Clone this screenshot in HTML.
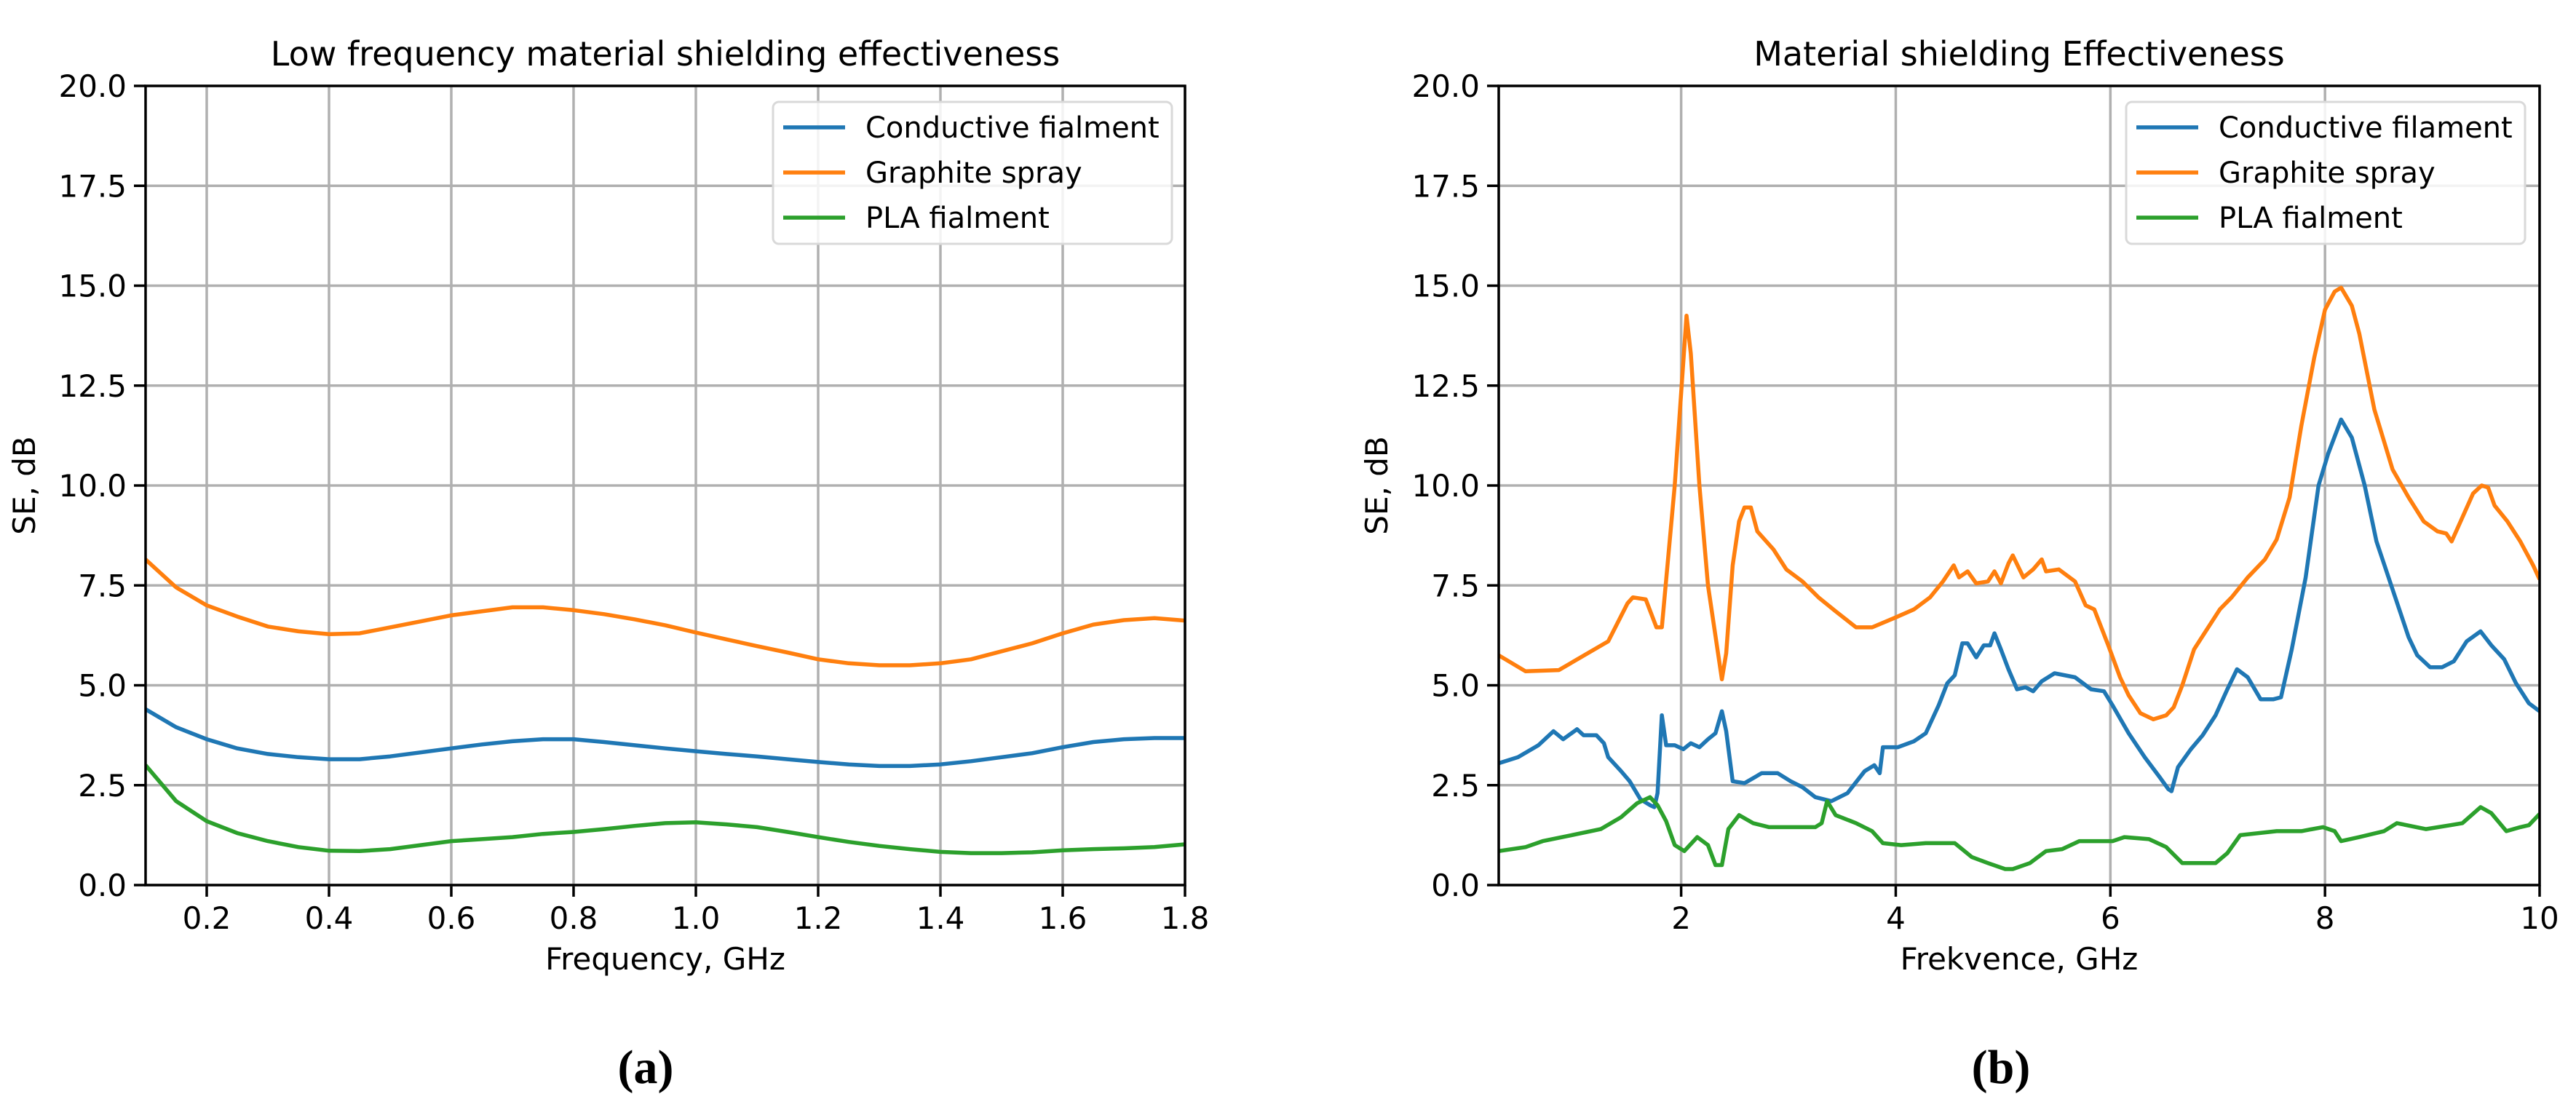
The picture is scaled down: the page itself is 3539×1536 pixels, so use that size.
<!DOCTYPE html>
<html><head><meta charset="utf-8"><style>
html,body{margin:0;padding:0;background:#fff;}
svg text{font-family:"DejaVu Sans","Liberation Sans",sans-serif;fill:#000;}
</style></head><body>
<svg id="fig" width="3539" height="1531" xmlns="http://www.w3.org/2000/svg">
<rect width="3539" height="1531" fill="#fff"/>
<g id="pa"></g>
<g id="pb"></g>
<text x="887" y="1488" text-anchor="middle" style="font-family:'Liberation Serif',serif;font-weight:bold;font-size:66px">(a)</text>
<text x="2749" y="1488" text-anchor="middle" style="font-family:'Liberation Serif',serif;font-weight:bold;font-size:66px">(b)</text>
</svg>
<script>
const yTicks=[0,2.5,5,7.5,10,12.5,15,17.5,20];
const yTickLabels=["0.0","2.5","5.0","7.5","10.0","12.5","15.0","17.5","20.0"];
const aXTicks=[0.2,0.4,0.6,0.8,1.0,1.2,1.4,1.6,1.8];
const aXTickLabels=["0.2","0.4","0.6","0.8","1.0","1.2","1.4","1.6","1.8"];
const aX=[0.1,0.15,0.2,0.25,0.3,0.35,0.4,0.45,0.5,0.55,0.6,0.65,0.7,0.75,0.8,0.85,0.9,0.95,1.0,1.05,1.1,1.15,1.2,1.25,1.3,1.35,1.4,1.45,1.5,1.55,1.6,1.65,1.7,1.75,1.8];
const aOrange=[8.15,7.45,7.0,6.72,6.47,6.35,6.28,6.3,6.45,6.6,6.75,6.85,6.95,6.95,6.88,6.78,6.65,6.5,6.32,6.15,5.98,5.82,5.65,5.55,5.5,5.5,5.55,5.65,5.85,6.05,6.3,6.52,6.63,6.68,6.62];
const aBlue=[4.4,3.95,3.65,3.42,3.28,3.2,3.15,3.15,3.22,3.32,3.42,3.52,3.6,3.65,3.65,3.58,3.5,3.42,3.35,3.28,3.22,3.15,3.08,3.02,2.98,2.98,3.02,3.1,3.2,3.3,3.45,3.58,3.65,3.68,3.68];
const aGreen=[3.0,2.1,1.6,1.3,1.1,0.95,0.86,0.85,0.9,1.0,1.1,1.15,1.2,1.28,1.33,1.4,1.48,1.55,1.57,1.52,1.45,1.33,1.2,1.08,0.98,0.9,0.83,0.8,0.8,0.82,0.87,0.9,0.92,0.95,1.02];
const bXTicks=[2,4,6,8,10];
const bXTickLabels=["2","4","6","8","10"];
const bOrangeX=[0.3,0.55,0.86,1.32,1.5,1.55,1.67,1.77,1.82,1.94,2.05,2.09,2.17,2.25,2.38,2.42,2.48,2.54,2.59,2.65,2.71,2.86,2.98,3.13,3.28,3.44,3.63,3.78,4.0,4.17,4.32,4.44,4.54,4.59,4.67,4.75,4.86,4.92,4.98,5.05,5.09,5.19,5.28,5.36,5.4,5.52,5.67,5.77,5.85,5.98,6.09,6.17,6.28,6.4,6.52,6.59,6.67,6.78,6.9,7.02,7.13,7.28,7.44,7.55,7.67,7.78,7.9,8.0,8.09,8.15,8.25,8.32,8.46,8.63,8.78,8.92,9.05,9.13,9.18,9.28,9.38,9.46,9.52,9.58,9.7,9.82,9.94,10.0];
const bOrange=[5.75,5.35,5.38,6.1,7.05,7.2,7.15,6.45,6.45,10.0,14.25,13.3,10.0,7.5,5.15,5.8,8.0,9.1,9.45,9.45,8.85,8.4,7.9,7.6,7.2,6.85,6.45,6.45,6.7,6.9,7.2,7.6,8.0,7.7,7.85,7.55,7.6,7.85,7.55,8.05,8.25,7.7,7.9,8.15,7.85,7.9,7.6,7.0,6.9,6.0,5.2,4.75,4.3,4.15,4.25,4.45,5.0,5.9,6.4,6.9,7.2,7.7,8.15,8.65,9.7,11.5,13.2,14.4,14.85,14.95,14.5,13.8,11.9,10.4,9.7,9.1,8.85,8.8,8.6,9.2,9.8,10.0,9.95,9.5,9.1,8.6,8.0,7.65];
const bBlueX=[0.3,0.48,0.67,0.81,0.9,1.03,1.09,1.21,1.28,1.32,1.44,1.52,1.62,1.71,1.75,1.78,1.82,1.86,1.94,2.02,2.09,2.17,2.25,2.32,2.38,2.42,2.48,2.59,2.75,2.9,3.02,3.13,3.25,3.4,3.55,3.71,3.8,3.85,3.88,4.02,4.17,4.28,4.4,4.48,4.55,4.62,4.67,4.75,4.82,4.88,4.92,4.98,5.05,5.13,5.21,5.28,5.36,5.48,5.67,5.82,5.94,6.02,6.17,6.32,6.46,6.54,6.57,6.63,6.75,6.86,6.98,7.09,7.18,7.28,7.4,7.52,7.59,7.69,7.82,7.94,8.03,8.15,8.25,8.37,8.48,8.63,8.78,8.86,8.98,9.09,9.2,9.32,9.45,9.55,9.67,9.78,9.9,10.0];
const bBlue=[3.05,3.2,3.5,3.85,3.65,3.9,3.75,3.75,3.55,3.2,2.85,2.6,2.15,2.0,1.95,2.3,4.25,3.5,3.5,3.4,3.55,3.45,3.65,3.8,4.35,3.85,2.6,2.55,2.8,2.8,2.6,2.45,2.2,2.1,2.3,2.85,3.0,2.8,3.45,3.45,3.6,3.8,4.5,5.05,5.25,6.05,6.05,5.7,6.0,6.0,6.3,5.9,5.4,4.9,4.95,4.85,5.1,5.3,5.2,4.9,4.85,4.5,3.8,3.2,2.7,2.4,2.35,2.95,3.4,3.75,4.25,4.9,5.4,5.2,4.65,4.65,4.7,5.9,7.7,10.0,10.8,11.65,11.2,10.0,8.6,7.4,6.2,5.75,5.45,5.45,5.6,6.1,6.35,6.0,5.65,5.05,4.55,4.35];
const bGreenX=[0.3,0.55,0.71,0.98,1.25,1.44,1.59,1.71,1.78,1.86,1.94,2.03,2.15,2.25,2.32,2.38,2.44,2.54,2.67,2.82,3.05,3.25,3.31,3.36,3.44,3.63,3.78,3.88,4.05,4.28,4.55,4.71,4.86,5.02,5.09,5.25,5.4,5.55,5.71,6.02,6.13,6.36,6.52,6.67,6.98,7.09,7.21,7.55,7.78,7.98,8.09,8.15,8.32,8.55,8.67,8.94,9.17,9.28,9.45,9.55,9.69,9.82,9.9,10.0];
const bGreen=[0.85,0.95,1.1,1.25,1.4,1.7,2.05,2.2,2.0,1.6,1.0,0.85,1.2,1.0,0.5,0.5,1.4,1.75,1.55,1.45,1.45,1.45,1.55,2.1,1.75,1.55,1.35,1.05,1.0,1.05,1.05,0.7,0.55,0.4,0.4,0.55,0.85,0.9,1.1,1.1,1.2,1.15,0.95,0.55,0.55,0.8,1.25,1.35,1.35,1.45,1.35,1.1,1.2,1.35,1.55,1.4,1.5,1.55,1.95,1.8,1.35,1.45,1.5,1.78];

const NS="http://www.w3.org/2000/svg";
const C={blue:"#1f77b4",orange:"#ff7f0e",green:"#2ca02c"};
function mk(tag,attrs,parent){const e=document.createElementNS(NS,tag);for(const k in attrs)e.setAttribute(k,attrs[k]);parent.appendChild(e);return e;}
function chart(g,L,R,T,B,xmin,xmax,xt,xtl,title,xlabel,ylabX,series,legX,legW){
  const sx=v=>L+(v-xmin)/(xmax-xmin)*(R-L);
  const sy=v=>B-(v/20)*(B-T);
  xt.forEach((v,i)=>{
    const l=mk('line',{x1:sx(v),x2:sx(v),y1:T,y2:B,stroke:'#b0b0b0','stroke-width':3.5},g);
    
    
    const t=mk('line',{x1:sx(v),x2:sx(v),y1:B,y2:B+16,stroke:'#000','stroke-width':3.5},g);
    
    
    const tx=mk('text',{x:sx(v),y:B+60,'text-anchor':'middle','font-size':42},g);
    
    
    tx.textContent=xtl[i];
  });
  yTicks.forEach((v,i)=>{
    const l=mk('line',{x1:L,x2:R,y1:sy(v),y2:sy(v),stroke:'#b0b0b0','stroke-width':3.5},g);
    
    
    const t=mk('line',{x1:L-16,x2:L,y1:sy(v),y2:sy(v),stroke:'#000','stroke-width':3.5},g);
    
    
    const tx=mk('text',{x:L-26,y:sy(v)+15,'text-anchor':'end','font-size':42},g);
    
    
    tx.textContent=yTickLabels[i];
  });
  const cid='clip'+L;
  const cp=mk('clipPath',{id:cid},g);mk('rect',{x:L,y:T,width:R-L,height:B-T},cp);
  series.forEach(s=>{
    const d=s.x.map((v,i)=>(i?'L':'M')+sx(v).toFixed(1)+','+sy(s.y[i]).toFixed(1)).join(' ');
    const p=mk('path',{d:d,fill:'none',stroke:s.c,'stroke-width':5.5,'stroke-linejoin':'round','clip-path':'url(#'+cid+')'},g);
    
    
  });
  const fr=mk('rect',{x:L,y:T,width:R-L,height:B-T,fill:'none',stroke:'#000','stroke-width':3.5},g);
  
  
  const ti=mk('text',{x:(L+R)/2,y:90,'text-anchor':'middle','font-size':46},g);
  
  
  ti.textContent=title;
  const xl=mk('text',{x:(L+R)/2,y:1332,'text-anchor':'middle','font-size':42},g);
  
  
  xl.textContent=xlabel;
  const yl=mk('text',{x:ylabX,y:(T+B)/2,'text-anchor':'middle','font-size':42,transform:'rotate(-90 '+ylabX+' '+(T+B)/2+')'},g);
  
  
  yl.textContent='SE, dB';
  const lg=mk('g',{},g);
  
  
  const lb=mk('rect',{x:legX,y:140,width:legW,height:195,rx:8,fill:'#fff','fill-opacity':0.85,stroke:'#d9d9d9','stroke-width':3},lg);
  
  
  series.forEach((s,i)=>{
    const y=175+i*62;
    const ll=mk('line',{x1:legX+14,x2:legX+99,y1:y,y2:y,stroke:s.c,'stroke-width':5.5},lg);
    
    
    const lt=mk('text',{x:legX+127,y:y+14,'font-size':40},lg);
    
    
    lt.textContent=s.label;
  });
}
chart(document.getElementById('pa'),200,1628,118,1216,0.1,1.8,aXTicks,aXTickLabels,
 'Low frequency material shielding effectiveness','Frequency, GHz',48,
 [{x:aX,y:aBlue,c:C.blue,n:'conductive',label:'Conductive fialment'},
  {x:aX,y:aOrange,c:C.orange,n:'graphite',label:'Graphite spray'},
  {x:aX,y:aGreen,c:C.green,n:'pla',label:'PLA fialment'}],1062,548);
chart(document.getElementById('pb'),2059,3489,118,1216,0.3,10,bXTicks,bXTickLabels,
 'Material shielding Effectiveness','Frekvence, GHz',1906,
 [{x:bBlueX,y:bBlue,c:C.blue,n:'conductive',label:'Conductive filament'},
  {x:bOrangeX,y:bOrange,c:C.orange,n:'graphite',label:'Graphite spray'},
  {x:bGreenX,y:bGreen,c:C.green,n:'pla',label:'PLA fialment'}],2921,548);
</script>
</body></html>
